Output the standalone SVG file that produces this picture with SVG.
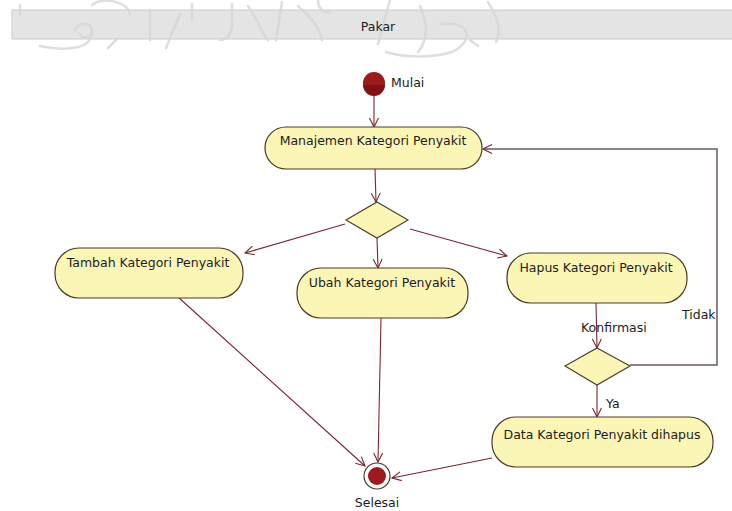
<svg xmlns="http://www.w3.org/2000/svg" width="732" height="511" viewBox="0 0 732 511">
  <defs>
    <marker id="arrow" markerWidth="12" markerHeight="12" refX="10" refY="5" orient="auto" markerUnits="userSpaceOnUse">
      <path d="M1,0.5 L10,5 L1,9.5" fill="none" stroke="#7a2530" stroke-width="1.1"/>
    </marker>
  </defs>
  <style>
    .bg { fill: #ffffff; }
    .mark { fill: none; stroke: #d6d6d6; stroke-width: 2.5; stroke-linecap: round; opacity: 0.8; }
    .lane { fill: #e4e4e4; stroke: #cacaca; stroke-width: 1; }
    .act { fill: #fcf6b6; stroke: #4a3a22; stroke-width: 1.2; }
    .dec { fill: #fcf6b6; stroke: #4a3a22; stroke-width: 1.1; }
    .flow { fill: none; stroke: #7a2530; stroke-width: 1.1; marker-end: url(#arrow); }
    .loop { fill: none; stroke: #6a5a5a; stroke-width: 1.5; marker-end: url(#arrow); }
    .t { font-family: "DejaVu Sans", Verdana, sans-serif; font-size: 12.5px; fill: #1c1c1c; }
    .c { text-anchor: middle; }
  </style>

  <rect class="bg" x="0" y="0" width="732" height="511"/>

  <!-- swimlane header -->
  <g id="lane">
    <rect class="lane" x="12" y="10" width="730" height="29"/>
  </g>

  <!-- faint calligraphic background mark -->
  <g id="watermark">
    <path class="mark" d="M20,5 L20,14 M92,5 C104,-4 128,2 130,14"/>
    <path class="mark" d="M75,30 C78,22 92,22 92,30 C92,38 82,40 80,34 M92,32 C92,48 70,52 40,46"/>
    <path class="mark" d="M118,38 L108,48 M150,10 L150,40 M180,14 L166,48 M192,4 L192,20"/>
    <path class="mark" d="M232,4 L232,24 C232,34 226,40 220,40 M248,6 C258,20 262,34 268,40 M282,2 L276,40"/>
    <path class="mark" d="M298,6 C304,12 318,22 322,40 M318,0 C318,10 326,14 330,12"/>
    <path class="mark" d="M390,0 L378,44 M420,6 C428,24 428,40 418,52 M440,24 C470,20 476,40 452,52 C432,58 406,58 386,52"/>
    <path class="mark" d="M470,40 L478,46 M488,2 C498,18 502,30 496,42"/>
  </g>

  <text class="t c" x="378" y="31">Pakar</text>

  <!-- connectors -->
  <g id="connectors">
    <path class="flow" d="M374,94 L374,127"/>
    <path class="flow" d="M375,168 L376,202"/>
    <path class="flow" d="M345,224 L245,253"/>
    <path class="flow" d="M377,238 L378,268"/>
    <path class="flow" d="M410,229 L507,256"/>
    <path class="flow" d="M596,303 L597,348"/>
    <path class="loop" d="M630,365 L717,365 L717,149 L483,149"/>
    <path class="flow" d="M597,385 L597,417"/>
    <path class="flow" d="M178,297 L365,466"/>
    <path class="flow" d="M381,318 L378,462"/>
    <path class="flow" d="M492,458 L392,478"/>
  </g>

  <!-- connector labels -->
  <g id="labels">
    <text class="t" x="581" y="332">Konfirmasi</text>
    <text class="t" x="682" y="319">Tidak</text>
    <text class="t" x="606" y="408">Ya</text>
  </g>

  <g id="start">
    <circle cx="374" cy="83" r="11" fill="#9b1b1e"/>
    <path d="M363,85 A11,11 0 0 0 385,85 Z" fill="#7e1214"/>
    <text class="t" x="391" y="87">Mulai</text>
  </g>

  <g id="manajemen">
    <rect class="act" x="265" y="127" width="217" height="42" rx="21" ry="21"/>
    <text class="t c" x="373" y="145">Manajemen Kategori Penyakit</text>
  </g>

  <g id="decision1">
    <polygon class="dec" points="377,202 408,220 377,238 346,220"/>
  </g>

  <g id="tambah">
    <rect class="act" x="55" y="248" width="188" height="50" rx="24" ry="24"/>
    <text class="t c" x="148" y="267">Tambah Kategori Penyakit</text>
  </g>

  <g id="ubah">
    <rect class="act" x="297" y="268" width="171" height="50" rx="24" ry="24"/>
    <text class="t c" x="382" y="287">Ubah Kategori Penyakit</text>
  </g>

  <g id="hapus">
    <rect class="act" x="507" y="253" width="180" height="50" rx="24" ry="24"/>
    <text class="t c" x="596" y="272">Hapus Kategori Penyakit</text>
  </g>

  <g id="decision2">
    <polygon class="dec" points="597,348 630,366 597,385 565,366"/>
  </g>

  <g id="dihapus">
    <rect class="act" x="492" y="417" width="221" height="50" rx="24" ry="24"/>
    <text class="t c" x="602" y="439">Data Kategori Penyakit dihapus</text>
  </g>

  <g id="end">
    <circle cx="377" cy="476" r="13" fill="#ffffff" stroke="#4a3a22" stroke-width="1.2"/>
    <circle cx="377" cy="476" r="9" fill="#9b1b1e"/>
    <text class="t c" x="377" y="507">Selesai</text>
  </g>
</svg>
